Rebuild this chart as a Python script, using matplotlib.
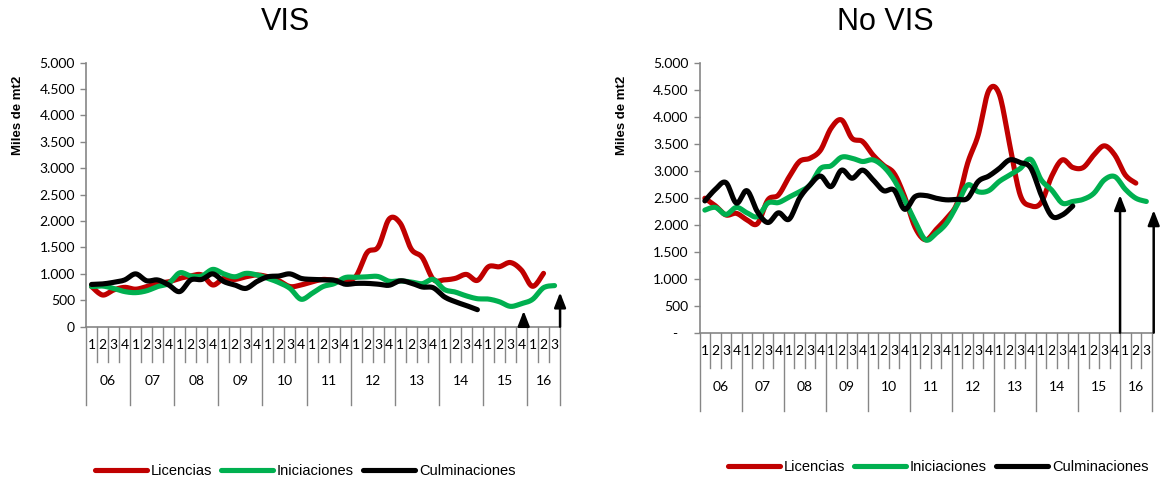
import numpy as np
import matplotlib
matplotlib.use("Agg")
import matplotlib.pyplot as plt
from matplotlib.lines import Line2D
from matplotlib.ticker import FuncFormatter

# Quarterly series 2006Q1 - 2016Q3 (miles de m2)
years = ["06", "07", "08", "09", "10", "11", "12", "13", "14", "15", "16"]
quarters_per_year = [4, 4, 4, 4, 4, 4, 4, 4, 4, 4, 3]

vis_licencias = [760, 600, 695, 745, 710, 760, 820, 850, 915, 960, 980, 790,
                 915, 895, 945, 980, 945, 870, 760, 790, 850, 895, 877, 877,
                 960, 1405, 1510, 2040, 1960, 1470, 1310, 897, 887, 915, 990, 877,
                 1135, 1136, 1215, 1070, 765, 1010]
vis_iniciaciones = [760, 770, 725, 665, 645, 680, 760, 820, 1020, 960, 960, 1085,
                    1000, 945, 1010, 980, 915, 835, 725, 520, 630, 760, 815, 930,
                    935, 945, 950, 860, 868, 846, 815, 895, 705, 655, 583, 530,
                    523, 472, 385, 437, 517, 738, 778]
vis_culminaciones = [800, 810, 840, 885, 1000, 870, 885, 790, 665, 885, 895, 1000,
                     855, 790, 725, 855, 945, 960, 1000, 915, 895, 885, 880, 805,
                     820, 820, 805, 785, 868, 825, 752, 737, 566, 472, 400, 322]

novis_licencias = [2490, 2350, 2180, 2210, 2090, 2020, 2460, 2550, 2880, 3170, 3230, 3380,
                   3785, 3940, 3600, 3540, 3290, 3100, 2950, 2520, 1950, 1720, 1910, 2120,
                   2400, 3140, 3660, 4480, 4420, 3480, 2550, 2350, 2410, 2900, 3200, 3060,
                   3060, 3290, 3460, 3290, 2920, 2770]
novis_iniciaciones = [2270, 2320, 2190, 2320, 2220, 2150, 2400, 2410, 2510, 2610, 2735, 3040,
                      3090, 3250, 3230, 3170, 3200, 3075, 2830, 2460, 2060, 1720, 1840, 2030,
                      2365, 2735, 2610, 2630, 2800, 2920, 3040, 3210, 2830, 2640, 2400, 2430,
                      2470, 2580, 2830, 2890, 2655, 2490, 2430]
novis_culminaciones = [2440, 2655, 2780, 2400, 2630, 2240, 2040, 2220, 2100, 2490, 2735, 2900,
                       2705, 3010, 2860, 3010, 2830, 2630, 2640, 2285, 2520, 2540, 2490, 2460,
                       2470, 2490, 2800, 2900, 3040, 3200, 3150, 3050, 2550, 2160, 2180, 2345]

# Arrow markers: (category position, top value)
vis_arrows = [(39.7, 300), (43.0, 650)]
novis_arrows = [(40.0, 2550), (43.2, 2270)]

RED = "#C00000"
GREEN = "#00B050"
BLACK = "#000000"
GRAY = "#868686"
TICK_FONT = ["Lato", "DejaVu Sans"]
LINE_W = 3.7


def smooth(values, n=12):
    """Bezier smoothing through every point, like a spreadsheet 'smoothed line'."""
    x = np.arange(len(values)) + 0.5
    pts = np.column_stack([x, np.asarray(values, dtype=float)])
    p = np.vstack([pts[0], pts, pts[-1]])
    t = np.linspace(0, 1, n, endpoint=False)[:, None]
    out = []
    for k in range(1, len(p) - 2):
        p0, p1, p2, p3 = p[k - 1], p[k], p[k + 1], p[k + 2]
        c1 = p1 + (p2 - p0) / 6
        c2 = p2 - (p3 - p1) / 6
        out.append((1 - t) ** 3 * p1 + 3 * (1 - t) ** 2 * t * c1
                   + 3 * (1 - t) * t ** 2 * c2 + t ** 3 * p2)
    out.append(pts[-1:])
    seg = np.vstack(out)
    return seg[:, 0], seg[:, 1]


def thousands(v, pos):
    if v == 0:
        return "0"
    return f"{v:,.0f}".replace(",", ".")


def thousands_dash(v, pos):
    if v == 0:
        return "-   "
    return f"{v:,.0f}".replace(",", ".")


def category_axis(ax, px_height):
    """Two-level quarter / year category axis drawn under the plot."""
    tr = ax.get_xaxis_transform()
    n = sum(quarters_per_year)
    q_len = 35 / px_height
    y_len = 78 / px_height
    pos = 0
    for year, nq in zip(years, quarters_per_year):
        for q in range(nq):
            ax.text(pos + q + 0.5, -18 / px_height, str(q + 1), transform=tr,
                    ha="center", va="center", fontsize=10, family=TICK_FONT)
            if q > 0:
                ax.add_line(Line2D([pos + q, pos + q], [0, -q_len], transform=tr,
                                   color=GRAY, lw=1, clip_on=False))
        ax.text(pos + nq / 2, -54 / px_height, year, transform=tr,
                ha="center", va="center", fontsize=10, family=TICK_FONT)
        ax.add_line(Line2D([pos, pos], [0, -y_len], transform=tr,
                           color=GRAY, lw=1, clip_on=False))
        pos += nq
    ax.add_line(Line2D([n, n], [0, -y_len], transform=tr,
                       color=GRAY, lw=1, clip_on=False))


def draw_panel(ax, lic, ini, cul, arrows, fmt, px_height):
    lines = []
    for vals, col, name in [(lic, RED, "Licencias"), (ini, GREEN, "Iniciaciones"),
                            (cul, BLACK, "Culminaciones")]:
        xs, ys = smooth(vals)
        ln, = ax.plot(xs, ys, color=col, lw=LINE_W, solid_capstyle="round",
                      solid_joinstyle="round", label=name)
        lines.append(ln)

    for xa, top in arrows:
        ax.annotate("", xy=(xa, top), xytext=(xa, 0), annotation_clip=False,
                    arrowprops=dict(arrowstyle="-|>,head_width=0.35,head_length=0.9",
                                    color="black", lw=1.8, shrinkA=0, shrinkB=0))

    ax.set_xlim(0, sum(quarters_per_year))
    ax.set_ylim(0, 5000)
    ax.set_yticks(np.arange(0, 5001, 500))
    ax.yaxis.set_major_formatter(FuncFormatter(fmt))
    ax.set_xticks([])
    for side in ("top", "right"):
        ax.spines[side].set_visible(False)
    for side in ("left", "bottom"):
        ax.spines[side].set_color(GRAY)
        ax.spines[side].set_linewidth(1.2)
    ax.tick_params(axis="y", direction="out", length=4, color=GRAY, width=1,
                   labelsize=10, pad=4)
    for lab in ax.get_yticklabels():
        lab.set_family(TICK_FONT)
    category_axis(ax, px_height)
    return lines


fig = plt.figure(figsize=(11.61, 4.8), dpi=100)

ax1 = fig.add_axes([0.0741, 0.3194, 0.4083, 0.55])
ax2 = fig.add_axes([0.6026, 0.3069, 0.3893, 0.5625])

h1 = draw_panel(ax1, vis_licencias, vis_iniciaciones, vis_culminaciones,
                vis_arrows, thousands, 264)
h2 = draw_panel(ax2, novis_licencias, novis_iniciaciones, novis_culminaciones,
                novis_arrows, thousands_dash, 270)

fig.text(285 / 1161, 1 - 22 / 480, "VIS", ha="center", va="center",
         fontsize=22, family=["Liberation Sans", "DejaVu Sans"])
fig.text(885 / 1161, 1 - 22 / 480, "No VIS", ha="center", va="center",
         fontsize=22, family=["Liberation Sans", "DejaVu Sans"])

for xpx in (18, 622):
    fig.text(xpx / 1161, 1 - 115 / 480, "Miles de mt2", rotation=90,
             ha="center", va="center", fontsize=9.5, fontweight="bold",
             family=["Liberation Sans", "DejaVu Sans"])

legend_font = {"family": ["Liberation Sans", "DejaVu Sans"], "size": 10.5}
for handles, (cx, cy) in [(h1, (305, 471)), (h2, (938, 467))]:
    fig.legend(handles=handles, loc="center",
               bbox_to_anchor=(cx / 1161, 1 - cy / 480), ncol=3, frameon=False,
               handlelength=3.6, handletextpad=0.25, columnspacing=0.6,
               prop=legend_font)

fig.savefig("out.png", dpi=100)
